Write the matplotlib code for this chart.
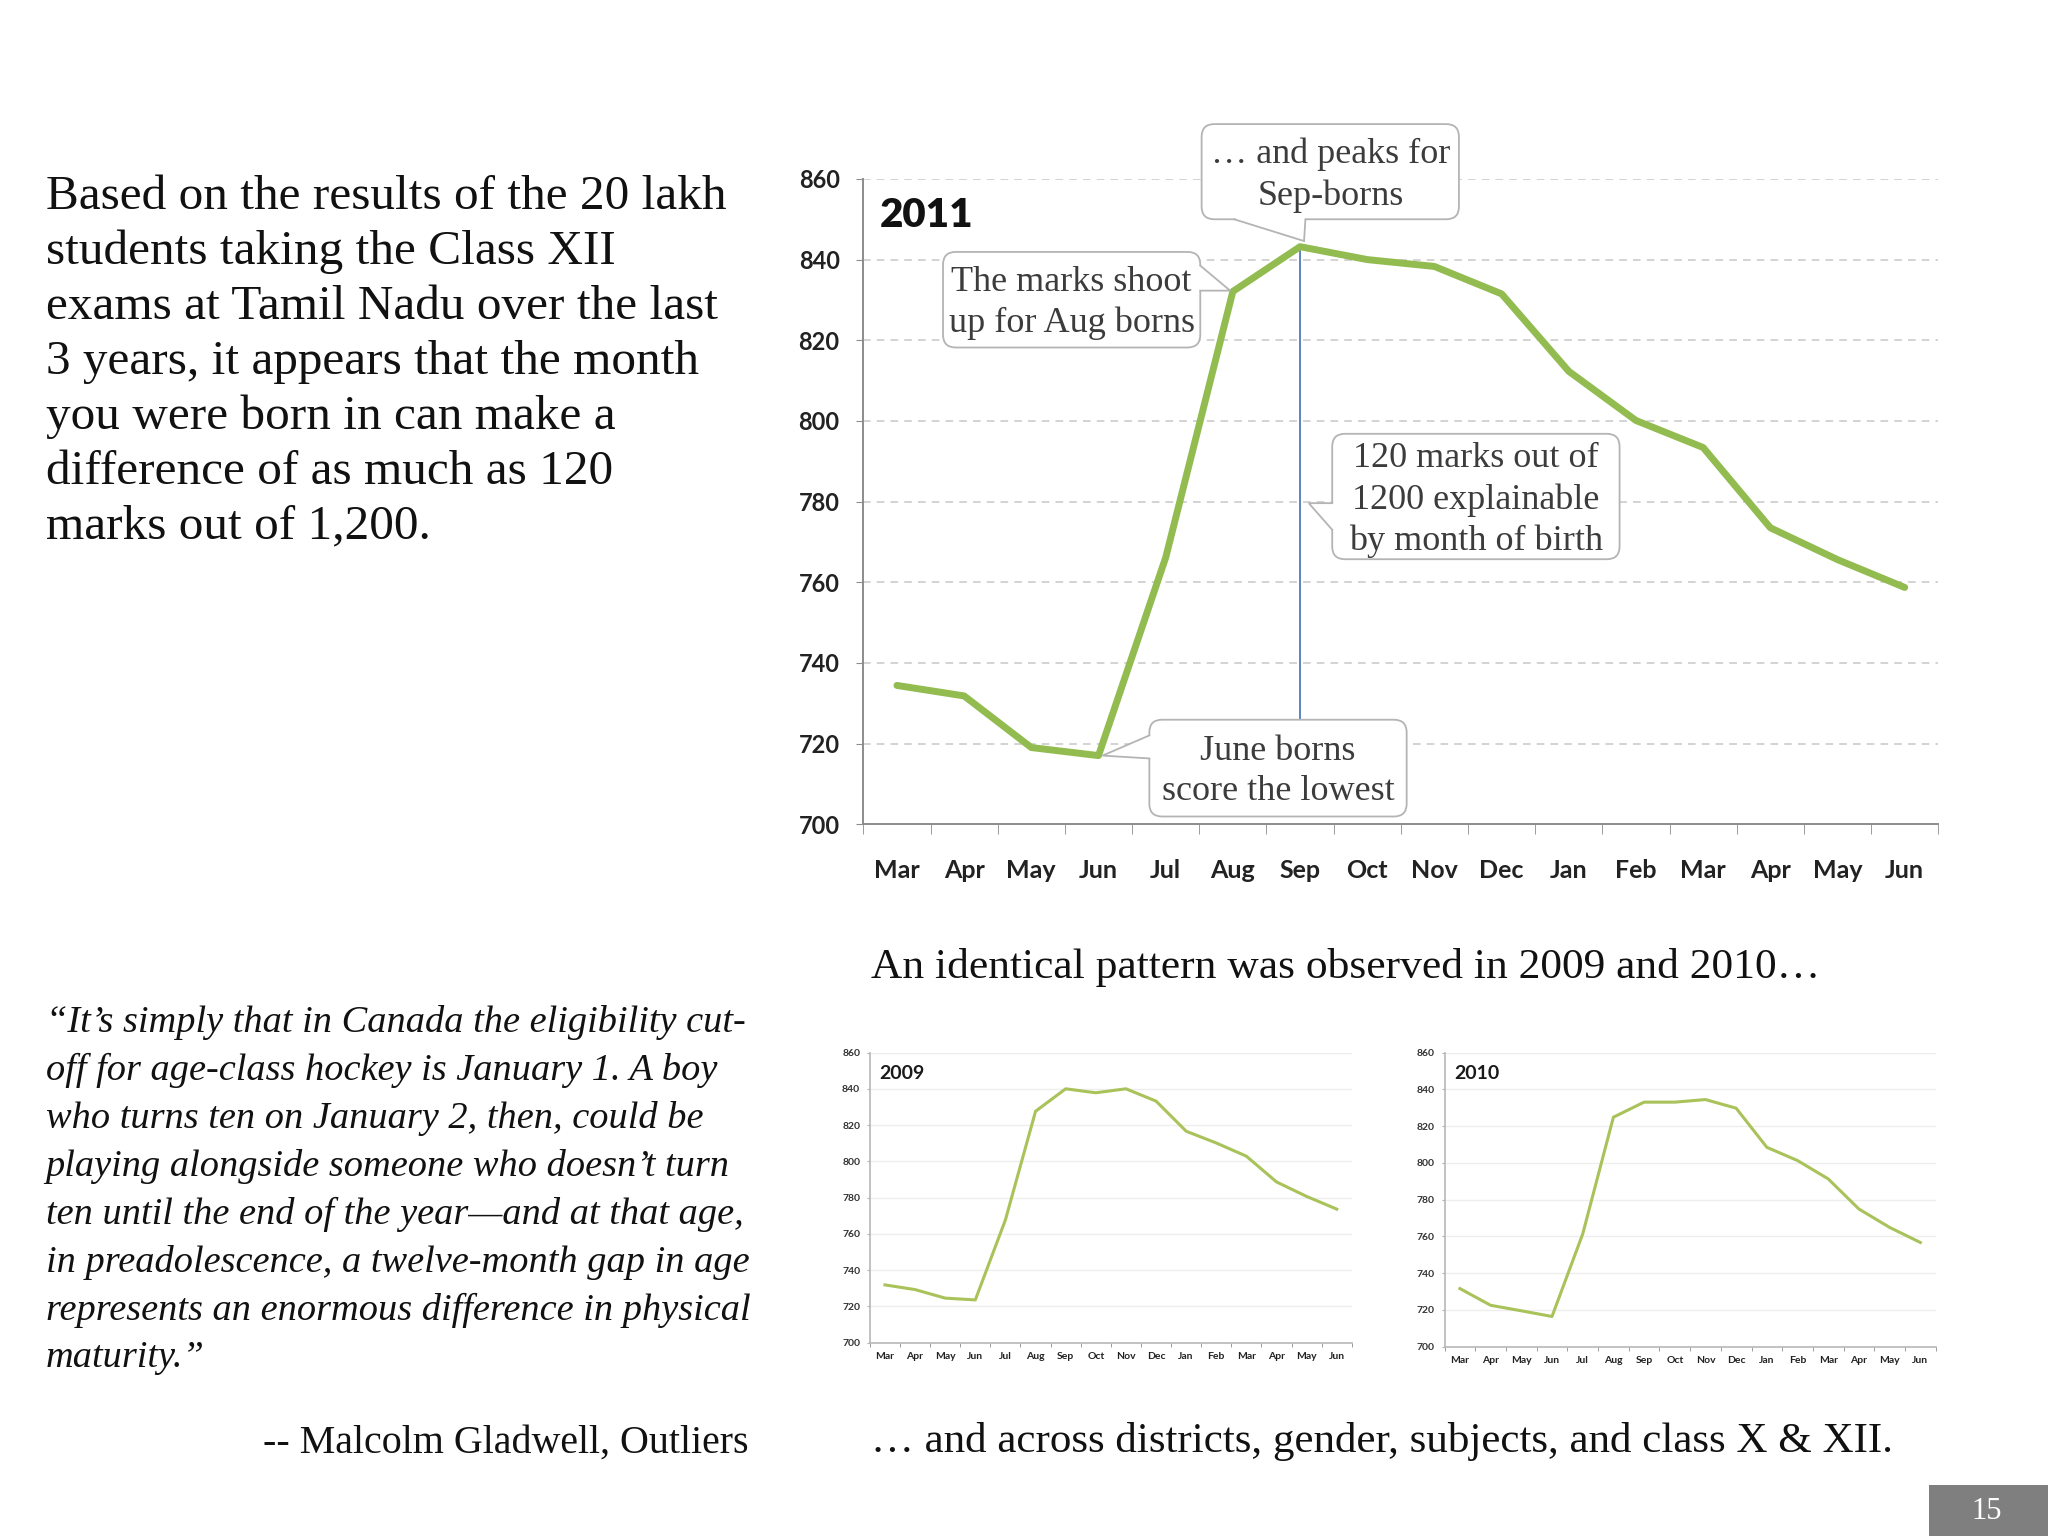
import matplotlib.pyplot as plt
from matplotlib.patches import FancyBboxPatch, Polygon, Rectangle

# ---- data ----
months = ['Mar', 'Apr', 'May', 'Jun', 'Jul', 'Aug', 'Sep', 'Oct',
          'Nov', 'Dec', 'Jan', 'Feb', 'Mar', 'Apr', 'May', 'Jun']
marks_2011 = [734.4, 731.8, 719.0, 717.0, 766.1, 832.1, 843.2, 840.0,
              838.3, 831.5, 812.3, 800.1, 793.4, 773.5, 765.6, 758.7]
marks_2009 = [731.9, 729.3, 724.6, 723.6, 767.8, 827.7, 840.1, 837.9,
              840.1, 833.3, 816.7, 810.2, 802.9, 788.7, 780.7, 773.7]
marks_2010 = [731.6, 722.5, 719.5, 716.4, 761.3, 824.9, 833.1, 833.1,
              834.5, 829.8, 808.5, 801.3, 791.3, 774.9, 764.9, 756.7]
y_ticks = [700, 720, 740, 760, 780, 800, 820, 840, 860]

intro_lines = [
    "Based on the results of the 20 lakh",
    "students taking the Class XII",
    "exams at Tamil Nadu over the last",
    "3 years, it appears that the month",
    "you were born in can make a",
    "difference of as much as 120",
    "marks out of 1,200.",
]
quote_lines = [
    "\u201cIt\u2019s simply that in Canada the eligibility cut-",
    "off for age-class hockey is January 1. A boy",
    "who turns ten on January 2, then, could be",
    "playing alongside someone who doesn\u2019t turn",
    "ten until the end of the year\u2014and at that age,",
    "in preadolescence, a twelve-month gap in age",
    "represents an enormous difference in physical",
    "maturity.\u201d",
]

SERIF = 'Liberation Serif'
SANS = 'Lato'
GREEN = '#92bb50'
GREEN_SMALL = '#a9c25a'
BOX_EC = '#b4b4b4'
BOX_TXT = '#3c3c3c'

W, H = 1568.0, 1176.0  # layout measured on the slide at this size


def fx(x):
    return x / W


def fy(y):
    return 1 - y / H


fig = plt.figure(figsize=(20.48, 15.36), dpi=100)
fig.patch.set_facecolor('white')

# ---- left column text ----
for i, line in enumerate(intro_lines):
    fig.text(fx(35), fy(151 + 42 * i), line, family=SERIF, fontsize=35.5,
             color='#111111', va='center', ha='left')

for i, line in enumerate(quote_lines):
    fig.text(fx(35), fy(783 + 36.7 * i), line, family=SERIF, style='italic',
             fontsize=27.6, color='#111111', va='center', ha='left')
fig.text(fx(573), fy(1105), "-- Malcolm Gladwell, Outliers", family=SERIF,
         fontsize=28.8, color='#111111', va='center', ha='right')

fig.text(fx(667), fy(741), "An identical pattern was observed in 2009 and 2010\u2026",
         family=SERIF, fontsize=31.3, color='#111111', va='center', ha='left')
fig.text(fx(667), fy(1104), "\u2026 and across districts, gender, subjects, and class X & XII.",
         family=SERIF, fontsize=31, color='#111111', va='center', ha='left')

# page number tab
fig.patches.append(Rectangle((fx(1477), 0), 1 - fx(1477), fy(1137),
                             transform=fig.transFigure, fc='#7f7f7f', ec='none'))
fig.text(fx(1521), fy(1157), "15", family=SERIF, fontsize=22, color='white',
         ha='center', va='center')


# ---- main 2011 chart ----
def month_axis(ax, labelsize, pad, minor_len, family=SANS, weight='bold'):
    n = len(months)
    ax.set_xlim(-0.5, n - 0.5)
    ax.set_xticks(range(n))
    ax.set_xticklabels(months, family=family, fontweight=weight)
    ax.set_xticks([i - 0.5 for i in range(n + 1)], minor=True)
    ax.tick_params(axis='x', which='major', length=0, pad=pad,
                   labelsize=labelsize, colors='#222222')
    ax.tick_params(axis='x', which='minor', length=minor_len, direction='out',
                   color='#8c8c8c')
    ax.set_ylim(y_ticks[0], y_ticks[-1])
    ax.set_yticks(y_ticks)
    for s in ['top', 'right']:
        ax.spines[s].set_visible(False)
    for s in ['left', 'bottom']:
        ax.spines[s].set_color('#8c8c8c')


ax = fig.add_axes([fx(661), fy(631), fx(1484) - fx(661), fy(137) - fy(631)])
month_axis(ax, 18, 25, 7)
ax.set_yticklabels([str(v) for v in y_ticks], family=SANS, fontweight='bold')
ax.tick_params(axis='y', length=5, pad=12, labelsize=17, colors='#222222',
               color='#8c8c8c')
for s in ['left', 'bottom']:
    ax.spines[s].set_linewidth(1.4)
for v in y_ticks[1:]:
    ax.axhline(v, color='#c8c8c8', lw=1.1, ls=(0, (5, 4)), zorder=1)

x = list(range(len(months)))
ax.plot(x, marks_2011, color=GREEN, lw=5, solid_capstyle='round',
        solid_joinstyle='round', zorder=3)
peak = marks_2011.index(max(marks_2011))
ax.vlines(peak, min(marks_2011), max(marks_2011), color='#3f6fb5', lw=1.2, zorder=2)
ax.text(0.015, 0.943, "2011", transform=ax.transAxes, family=SANS,
        fontweight='heavy', fontsize=29, color='#111111', va='center', ha='left')

# px-per-unit ratio of this axes, so box corners stay round
ASPECT = (160 / 494.0) / (16 / 823.0)


def callout(ax, text, x0, x1, y0, y1, base, tip):
    box = FancyBboxPatch((x0, y0), x1 - x0, y1 - y0,
                         boxstyle='round,pad=0,rounding_size=0.19',
                         mutation_aspect=ASPECT, fc='white', ec=BOX_EC,
                         lw=1.3, zorder=5, clip_on=False)
    ax.add_patch(box)
    cx, cy = (x0 + x1) / 2, (y0 + y1) / 2
    (b1x, b1y), (b2x, b2y) = base
    k = 0.08
    in1 = (b1x + (cx - b1x) * k, b1y + (cy - b1y) * k)
    in2 = (b2x + (cx - b2x) * k, b2y + (cy - b2y) * k)
    ax.add_patch(Polygon([in1, (b1x, b1y), tip, (b2x, b2y), in2], closed=True,
                         fc='white', ec='none', zorder=6, clip_on=False))
    ax.plot([b1x, tip[0], b2x], [b1y, tip[1], b2y], color=BOX_EC, lw=1.3,
            zorder=6, clip_on=False, solid_joinstyle='miter')
    ax.text(cx, cy - 0.9, text, family=SERIF, fontsize=26, color=BOX_TXT,
            ha='center', va='center', linespacing=1.3, zorder=7, clip_on=False)


callout(ax, "\u2026 and peaks for\nSep-borns", 4.535, 8.365, 850.0, 873.6,
        [(5.02, 850.0), (6.08, 850.0)], (6.06, 844.6))
callout(ax, "The marks shoot\nup for Aug borns", 0.686, 4.515, 818.2, 841.9,
        [(4.515, 838.5), (4.515, 832.3)], (4.96, 832.3))
callout(ax, "120 marks out of\n1200 explainable\nby month of birth", 6.479, 10.756,
        765.7, 796.8, [(6.479, 779.6), (6.479, 773.0)], (6.13, 779.6))
callout(ax, "June borns\nscore the lowest", 3.757, 7.587, 701.9, 725.9,
        [(3.757, 722.0), (3.757, 716.3)], (3.06, 717.0))


# ---- small 2009 / 2010 charts ----
def small_chart(rect, values, title):
    a = fig.add_axes(rect)
    month_axis(a, 7.5, 7, 3)
    a.set_yticklabels([str(v) for v in y_ticks], family=SANS, fontweight='bold')
    a.tick_params(axis='y', length=2, pad=5, labelsize=7.5, colors='#333333',
                  color='#b0b0b0')
    for s in ['left', 'bottom']:
        a.spines[s].set_color('#b8b8b8')
        a.spines[s].set_linewidth(1.2)
    for v in y_ticks[1:]:
        a.axhline(v, color='#eeeeee', lw=1.0, zorder=1)
    a.plot(range(len(months)), values, color=GREEN_SMALL, lw=2.2, zorder=3)
    a.text(0.02, 0.93, title, transform=a.transAxes, family=SANS,
           fontweight='bold', fontsize=14, color='#1a1a1a', va='center', ha='left')
    return a


small_chart([fx(666), fy(1028), fx(1035) - fx(666), fy(806) - fy(1028)], marks_2009, "2009")
small_chart([fx(1106), fy(1031), fx(1482) - fx(1106), fy(806) - fy(1031)], marks_2010, "2010")

fig.savefig('out.png', dpi=100, facecolor='white')
